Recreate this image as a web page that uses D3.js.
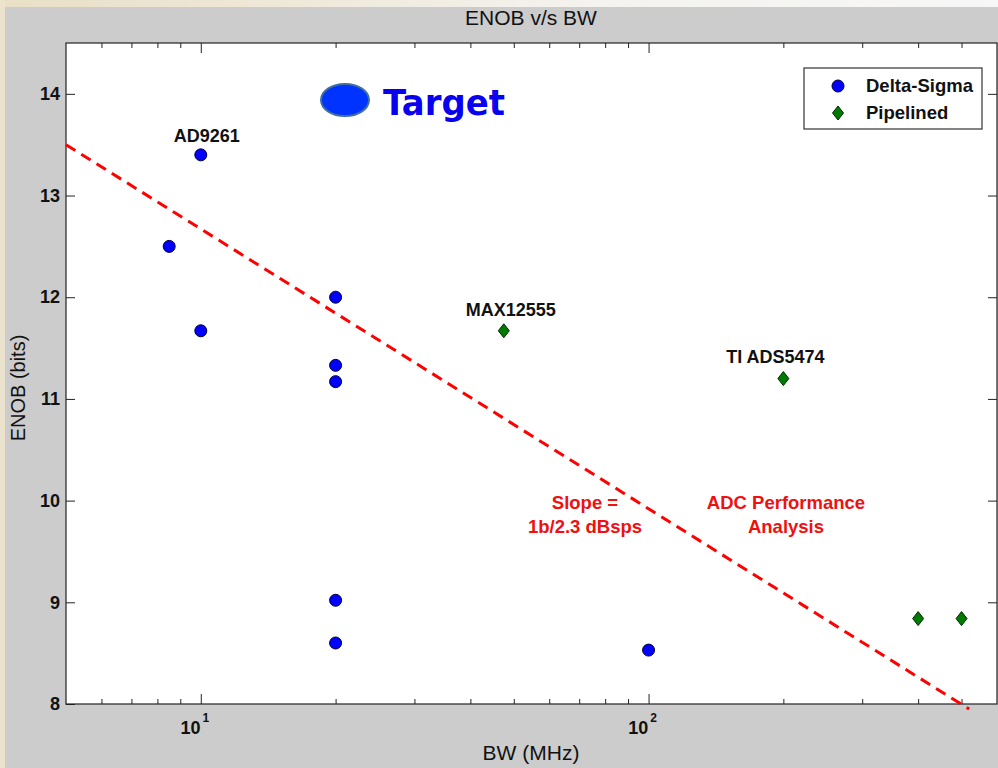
<!DOCTYPE html>
<html lang="en">
<head>
  <meta charset="UTF-8">
  <title>ENOB v/s BW</title>
  <style>
    body { margin: 0; background: #ccc; }
    svg { display: block; font-family: "Liberation Sans", Arial, sans-serif; }
  </style>
</head>
<body>
  <svg width="998" height="768"></svg>

  <script src="https://d3js.org/d3.v7.min.js"></script>
  <script>
    // Delta-Sigma ADCs
    const deltaBW   = [8.5, 10, 10, 20, 20, 20, 20, 20, 100];
    const deltaENOB = [12.5, 13.4, 11.67, 12.0, 11.33, 11.17, 9.02, 8.6, 8.53];

    // Pipelined ADCs
    const pipeBW   = [47.5, 200, 400, 500];
    const pipeENOB = [11.67, 11.2, 8.84, 8.84];

    // part names placed above a few points
    const partNames = ["AD9261", "MAX12555", "TI ADS5474"];
    const partBW    = [10, 47.5, 200];
    const partENOB  = [13.4, 11.67, 11.2];

    // trend line end points
    const trendBW   = [5, 520];
    const trendENOB = [13.5, 7.95];

    const yTicks = [8, 9, 10, 11, 12, 13, 14];
    const xLabels = [10, 100];

    const svg = d3.select("svg"),
          width = +svg.attr("width"),
          height = +svg.attr("height");

    const m = { left: 66, right: 997, top: 43, bottom: 704 };

    // backdrop: gray panel with a light slide edge at the top and left
    const defs = svg.append("defs");
    const grad = defs.append("linearGradient").attr("id", "edge");
    grad.append("stop").attr("offset", "0%").attr("stop-color", "#eadfc6");
    grad.append("stop").attr("offset", "60%").attr("stop-color", "#f4f3ef");
    grad.append("stop").attr("offset", "100%").attr("stop-color", "#f7f7f7");

    svg.append("rect").attr("width", width).attr("height", height).attr("fill", "#cccccc");
    svg.append("rect").attr("width", width).attr("height", 7).attr("fill", "url(#edge)");
    svg.append("rect").attr("width", 5).attr("height", height).attr("fill", "#ebe3cd");

    const x = d3.scaleLog().domain([5, 600]).range([m.left, m.right]);
    const y = d3.scaleLinear().domain([8, 14.5]).range([m.bottom, m.top]);

    svg.append("rect")
      .attr("x", m.left).attr("y", m.top)
      .attr("width", m.right - m.left).attr("height", m.bottom - m.top)
      .attr("fill", "#fff");

    // x ticks: majors at decades, minors elsewhere, all pointing inward
    const xt = x.ticks().filter(d => d > 5 && d < 600);
    const isMajor = d => Math.abs(Math.log10(d) - Math.round(Math.log10(d))) < 1e-9;

    function xAxis(gen, yPos, sign) {
      const g = svg.append("g").attr("transform", `translate(0,${yPos})`)
        .call(gen(x).tickValues(xt).tickSizeOuter(0).tickFormat(""));
      g.select(".domain").remove();
      g.selectAll(".tick line")
        .attr("y2", d => sign * (isMajor(d) ? 10 : 5))
        .attr("stroke", "#222");
    }
    xAxis(d3.axisBottom, m.bottom, -1);
    xAxis(d3.axisTop, m.top, 1);

    const yl = svg.append("g").attr("transform", `translate(${m.left},0)`)
      .call(d3.axisLeft(y).tickValues(yTicks).tickSize(-9).tickPadding(6)
        .tickFormat(d3.format("d")).tickSizeOuter(0));
    yl.select(".domain").remove();
    yl.selectAll(".tick line").attr("stroke", "#222");
    yl.selectAll(".tick text")
      .attr("font-family", "'Liberation Sans', Arial, sans-serif")
      .attr("font-weight", "bold").attr("font-size", 18).attr("fill", "#111");

    const yr = svg.append("g").attr("transform", `translate(${m.right},0)`)
      .call(d3.axisRight(y).tickValues(yTicks.filter(d => d > 8)).tickSize(-9).tickFormat("").tickSizeOuter(0));
    yr.select(".domain").remove();
    yr.selectAll(".tick line").attr("stroke", "#222");

    // box
    svg.append("rect")
      .attr("x", m.left).attr("y", m.top)
      .attr("width", m.right - m.left).attr("height", m.bottom - m.top)
      .attr("fill", "none").attr("stroke", "#222").attr("stroke-width", 1.2);

    // decade labels 10^1, 10^2
    const xl = svg.append("g").selectAll("text").data(xLabels).join("text")
      .attr("x", d => x(d) - 6).attr("y", m.bottom + 30)
      .attr("text-anchor", "middle")
      .attr("font-weight", "bold").attr("font-size", 18).attr("fill", "#111");
    xl.append("tspan").text("10");
    xl.append("tspan").attr("dy", -12).attr("dx", 2).attr("font-size", 12).text(d => Math.log10(d));

    // titles
    svg.append("text").attr("x", 531).attr("y", 25)
      .attr("text-anchor", "middle").attr("font-size", 21).attr("fill", "#111")
      .text("ENOB v/s BW");
    svg.append("text").attr("x", 531).attr("y", 760)
      .attr("text-anchor", "middle").attr("font-size", 21).attr("fill", "#111")
      .text("BW (MHz)");
    svg.append("text")
      .attr("transform", "translate(25,388) rotate(-90)")
      .attr("text-anchor", "middle").attr("font-size", 20).attr("fill", "#111")
      .text("ENOB (bits)");

    // trend line
    svg.append("line")
      .attr("x1", x(trendBW[0])).attr("y1", y(trendENOB[0]))
      .attr("x2", x(trendBW[1])).attr("y2", y(trendENOB[1]))
      .attr("stroke", "#ff0000").attr("stroke-width", 3)
      .attr("stroke-dasharray", "11,7");

    // points
    svg.append("g").selectAll("circle").data(deltaBW).join("circle")
      .attr("cx", d => x(d)).attr("cy", (d, i) => y(deltaENOB[i]))
      .attr("r", 6).attr("fill", "#0000ff").attr("stroke", "#00003a").attr("stroke-width", 1);

    const diamond = "M0,-7L5.5,0L0,7L-5.5,0Z";
    svg.append("g").selectAll("path").data(pipeBW).join("path")
      .attr("transform", (d, i) => `translate(${x(d)},${y(pipeENOB[i])})`)
      .attr("d", diamond).attr("fill", "#007a00").attr("stroke", "#002a00").attr("stroke-width", 1);

    // part labels
    svg.append("g").selectAll("text").data(partNames).join("text")
      .attr("x", (d, i) => x(partBW[i]) + [6, 7, -8][i])
      .attr("y", (d, i) => y(partENOB[i]) - [13, 15, 16][i])
      .attr("text-anchor", "middle")
      .attr("font-weight", "bold").attr("font-size", 18).attr("fill", "#111")
      .text(d => d);

    // red annotations
    const notes = [
      { lines: ["Slope =", "1b/2.3 dBsps"], cx: 585 },
      { lines: ["ADC Performance", "Analysis"], cx: 786 }
    ];
    notes.forEach(n => {
      svg.append("text").attr("text-anchor", "middle")
        .attr("font-weight", "bold").attr("font-size", 18.5).attr("fill", "#f01010")
        .selectAll("tspan").data(n.lines).join("tspan")
        .attr("x", n.cx).attr("y", (d, i) => 509 + i * 24).text(d => d);
    });

    // Target marker
    svg.append("ellipse").attr("cx", 345).attr("cy", 100).attr("rx", 24).attr("ry", 16)
      .attr("fill", "#0033ff").attr("stroke", "#3f6f9f").attr("stroke-width", 2);
    svg.append("text").attr("x", 383).attr("y", 115)
      .attr("font-family", "'DejaVu Sans', Verdana, sans-serif")
      .attr("font-weight", "bold").attr("font-size", 35)
      .attr("textLength", 122).attr("lengthAdjust", "spacingAndGlyphs")
      .attr("fill", "#0a00f0").text("Target");

    // legend
    const lg = svg.append("g").attr("transform", "translate(804,68)");
    lg.append("rect").attr("width", 178).attr("height", 61)
      .attr("fill", "#fff").attr("stroke", "#333").attr("stroke-width", 1.2);
    lg.append("circle").attr("cx", 34).attr("cy", 18).attr("r", 6)
      .attr("fill", "#0000ff").attr("stroke", "#00003a");
    lg.append("path").attr("transform", "translate(34,45)").attr("d", diamond)
      .attr("fill", "#007a00").attr("stroke", "#002a00");
    lg.selectAll("text").data(["Delta-Sigma", "Pipelined"]).join("text")
      .attr("x", 62).attr("y", (d, i) => 24 + i * 27)
      .attr("font-weight", "bold").attr("font-size", 18.5).attr("fill", "#111")
      .text(d => d);
  </script>
</body>
</html>
